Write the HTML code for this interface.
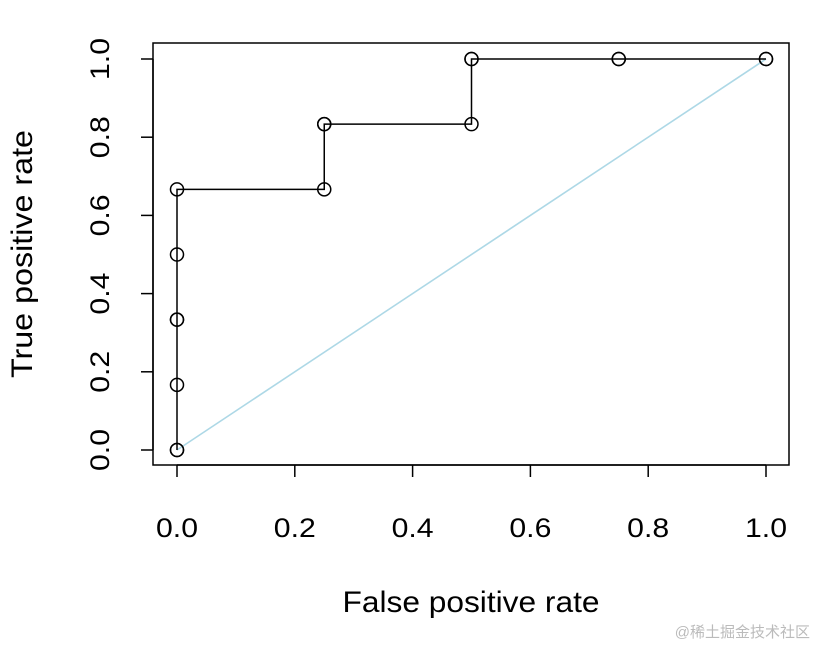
<!DOCTYPE html>
<html><head><meta charset="utf-8"><style>
body{margin:0;background:#fff}
svg{display:block;font-family:"Liberation Sans",Arial,sans-serif}
</style></head><body>
<svg id="chart" width="818" height="646">
<rect x="153" y="43" width="636" height="422" fill="none" stroke="#000" stroke-width="1.5"/>
<g id="xaxis"></g>
<g id="yaxis"></g>
<line id="diag" stroke="#add8e6" stroke-width="1.6"/>
<path id="roc" fill="none" stroke="#000" stroke-width="1.5"/>
<g id="pts"></g>
<text x="471" y="612" font-size="30" text-anchor="middle" textLength="257" lengthAdjust="spacingAndGlyphs">False positive rate</text>
<text transform="translate(32,254) rotate(-90)" font-size="30" text-anchor="middle" textLength="248" lengthAdjust="spacingAndGlyphs">True positive rate</text>
<text x="810" y="637" font-size="15" fill="#bbb" text-anchor="end" font-family="'Liberation Sans','Noto Sans CJK SC',sans-serif">@稀土掘金技术社区</text>
</svg>
<script>
const fpr=[0,0,0,0,0,0,0,0.25,0.25,0.25,0.5,0.5,0.5,0.75,0.75,1,1];
const tpr=[0,0,1/6,1/3,1/3,0.5,2/3,2/3,5/6,5/6,5/6,1,1,1,1,1,1];
const ticks=[0,0.2,0.4,0.6,0.8,1.0];
const tickLabels=["0.0","0.2","0.4","0.6","0.8","1.0"];
const X=v=>177+v*589, Y=v=>450-v*391;
const NS="http://www.w3.org/2000/svg";
function mk(t,a,p){const e=document.createElementNS(NS,t);for(const k in a)e.setAttribute(k,a[k]);p.appendChild(e);return e;}
const xa=document.getElementById('xaxis'),ya=document.getElementById('yaxis');
mk('line',{x1:X(0),x2:X(1),y1:465,y2:465,stroke:'#000','stroke-width':1.5},xa);
mk('line',{x1:153,x2:153,y1:Y(0),y2:Y(1),stroke:'#000','stroke-width':1.5},ya);
ticks.forEach((t,i)=>{
 let l=mk('line',{x1:X(t),x2:X(t),y1:465,y2:477,stroke:'#000','stroke-width':1.5},xa);
 
 
 let s=mk('text',{x:X(t),y:537,'font-size':27,'text-anchor':'middle',textLength:42,lengthAdjust:'spacingAndGlyphs'},xa);s.textContent=tickLabels[i];
 
 
 let l2=mk('line',{x1:141,x2:153,y1:Y(t),y2:Y(t),stroke:'#000','stroke-width':1.5},ya);
 
 
 let s2=mk('text',{transform:`translate(109,${Y(t)}) rotate(-90)`,'font-size':27,'text-anchor':'middle',textLength:42,lengthAdjust:'spacingAndGlyphs'},ya);s2.textContent=tickLabels[i];
 
 
});
const d=document.getElementById('diag');
d.setAttribute('x1',X(0));d.setAttribute('y1',Y(0));d.setAttribute('x2',X(1));d.setAttribute('y2',Y(1));
let p='M'+X(fpr[0])+','+Y(tpr[0]);
for(let i=1;i<fpr.length;i++)p+=' L'+X(fpr[i])+','+Y(tpr[i]);
document.getElementById('roc').setAttribute('d',p);
const g=document.getElementById('pts');
fpr.forEach((f,i)=>{
 const c=mk('circle',{cx:X(f),cy:Y(tpr[i]),r:6.5,fill:'none',stroke:'#000','stroke-width':1.5},g);
 
 
});
</script>
</body></html>
